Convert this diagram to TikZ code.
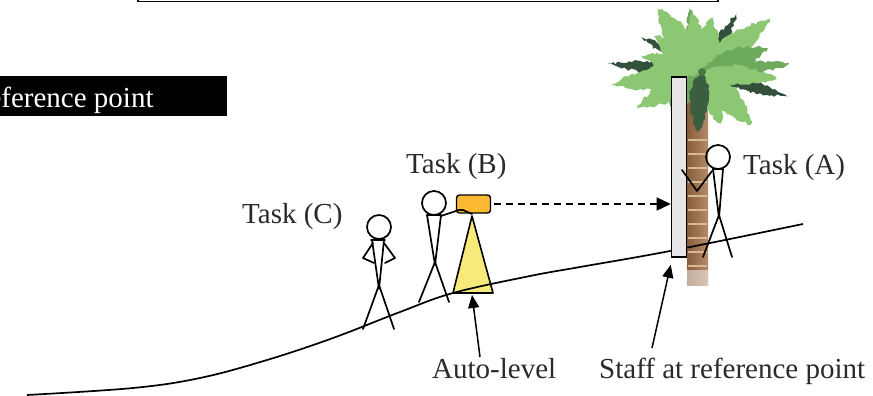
\documentclass[tikz,border=0pt]{standalone}
\usepackage{fontspec}
\setmainfont{Liberation Serif}
\usetikzlibrary{arrows.meta,decorations.pathmorphing}
\definecolor{ink}{HTML}{2A2A2A}
\definecolor{leafL}{RGB}{140,200,115}
\definecolor{leafM}{RGB}{110,170,92}
\definecolor{leafD}{RGB}{50,80,60}
\definecolor{bark}{RGB}{160,110,68}
\definecolor{barkL}{RGB}{215,185,150}
\definecolor{levelbody}{RGB}{251,185,51}
\definecolor{tripodfill}{RGB}{247,234,122}
\definecolor{staffgray}{RGB}{230,230,230}
\tikzset{
  lbl/.style={font=\fontsize{29}{33}\selectfont, text=ink, inner sep=0pt, anchor=base west},
  stick/.style={draw=black, line width=1.7pt, line join=round, line cap=round},
  pointer/.style={line width=1.5pt, -{Triangle[length=13pt,width=11pt]}},
  frond/.style={decorate, decoration={random steps, segment length=3pt, amplitude=1.6pt}}
}
\begin{document}
\begin{tikzpicture}[x=1pt,y=-1pt]
\useasboundingbox (0,0) rectangle (873,396);
\begin{scope}
\clip (0,0) rectangle (873,396);

% frame edge at the top
\draw[line width=1.5pt] (138,-10) rectangle (718,1.5);

% title bar
\fill[black] (-2,76) rectangle (227,116);
\node[lbl, text=white] (refpt) at (-31,107) {Reference point};

% palm trunk with rings
\shade[left color=bark!85!black, right color=bark!80!white] (687,100) rectangle (708,285);
\foreach \y in {140,154,168,182,196,210,224,238,252,266}
  \draw[barkL, line width=1.2pt] (688,\y) -- (707,\y);
\fill[white, opacity=0.5] (687,270) rectangle (708,286);

% palm crown: dark fronds behind, light fronds in front
\begin{scope}[shift={(702,72)}]
  \foreach \a/\l/\w/\c in {175/95/8/leafD, 59/69/7/leafD, -16/89/8/leafD, 150/70/6/leafD, 5/88/9/leafM, 101/66/10/leafM}
    \fill[\c, frond, rotate=\a] (0,0) .. controls (0.25*\l,\w) and (0.6*\l,\w) .. (\l,0) .. controls (0.6*\l,-\w) and (0.25*\l,-\w) .. (0,0);
  \foreach \a/\l/\w/\c in {125/78/17/leafL, 143/60/15/leafL, 38/86/16/leafL, 188/92/15/leafL, 209/74/15/leafL, -47/72/17/leafL, -70/55/14/leafL, 80/55/16/leafL, 100/62/12/leafL, 20/70/15/leafM, 230/50/15/leafM, 165/62/13/leafL, -5/75/12/leafL}
    \fill[\c, frond, rotate=\a] (0,0) .. controls (0.25*\l,\w) and (0.6*\l,\w) .. (\l,0) .. controls (0.6*\l,-\w) and (0.25*\l,-\w) .. (0,0);
  % hanging dark fronds over the top of the trunk
  \foreach \a/\l/\w in {266/60/12, 258/48/9}
    \fill[leafD!85!leafM, frond, rotate=\a] (0,0) .. controls (0.25*\l,\w) and (0.6*\l,\w) .. (\l,0) .. controls (0.6*\l,-\w) and (0.25*\l,-\w) .. (0,0);
  \fill[leafM!70!black] (0,0) circle[radius=4pt];
\end{scope}

% tripod of the auto-level
\draw[line width=1.6pt, fill=tripodfill, line join=round] (472,216) -- (453,293) -- (493,293) -- cycle;
\coordinate (tripodfoot) at (472,295);

% ground profile
\draw[line width=1.7pt] plot[smooth, tension=0.6] coordinates {(27,395) (133,388) (200,378) (267,360) (333,338) (400,312) (453,293) (530,276) (580,267) (670,251) (803,224)};

% levelling staff
\node[draw, line width=1.6pt, fill=staffgray, minimum width=15pt, minimum height=180pt, inner sep=0pt] (staff) at (679,167) {};

% auto-level body
\node[draw, line width=1.4pt, fill=levelbody, rounded corners=3pt, minimum width=34pt, minimum height=18pt, inner sep=0pt] (level) at (473.5,204) {};

% person C, hands on hips
\draw[stick] (379,227) circle[radius=12pt];
\draw[stick] (371,240) -- (385,240);
\draw[stick] (372,240) -- (379,289) -- (384,240);
\draw[stick] (363,329) -- (379,285) -- (394,329);
\draw[stick] (373,243) -- (363,258) -- (374,263);
\draw[stick] (384,243) -- (395,258) -- (385,263);

% person B, at the auto-level
\draw[stick] (434,203) circle[radius=12pt];
\draw[stick] (427,215) -- (441,215);
\draw[stick] (427,215) -- (435,265) -- (441,215);
\draw[stick] (419,302) -- (435,262) -- (449,302);
\draw[stick] (441,216) -- (459,210) -- (463,210) -- (472,214);

% person A, holding the staff
\draw[stick] (718,157) circle[radius=12pt];
\draw[stick] (713,169) -- (723,169);
\draw[stick] (713,169) -- (719,218) -- (723,169);
\draw[stick] (703,257) -- (719,215) -- (732,257);
\draw[stick] (712,171) -- (697,191) -- (682,170);

% line of sight
\draw[line width=1.4pt, dash pattern=on 7pt off 5pt, -{Triangle[length=14pt,width=13pt]}] ([xshift=3pt]level.east) -- (staff.west |- level.east);

% labels
\node[lbl] (taskC) at (242,223) {Task (C)};
\node[lbl] (taskB) at (406,173) {Task (B)};
\node[lbl] (taskA) at (743,174) {Task (A)};
\node[lbl] (lblAuto) at (432,378) {Auto-level};
\node[lbl] (lblStaff) at (599,378) {Staff at reference point};

% pointers from the labels
\coordinate (autotail) at (480,357);
\coordinate (stafftail) at (652,348);
\coordinate (stafffoot) at ([yshift=-7pt]staff.south west);
\draw[pointer] (autotail) -- (tripodfoot);
\draw[pointer] (stafftail) -- (stafffoot);
\end{scope}
\end{tikzpicture}
\end{document}
